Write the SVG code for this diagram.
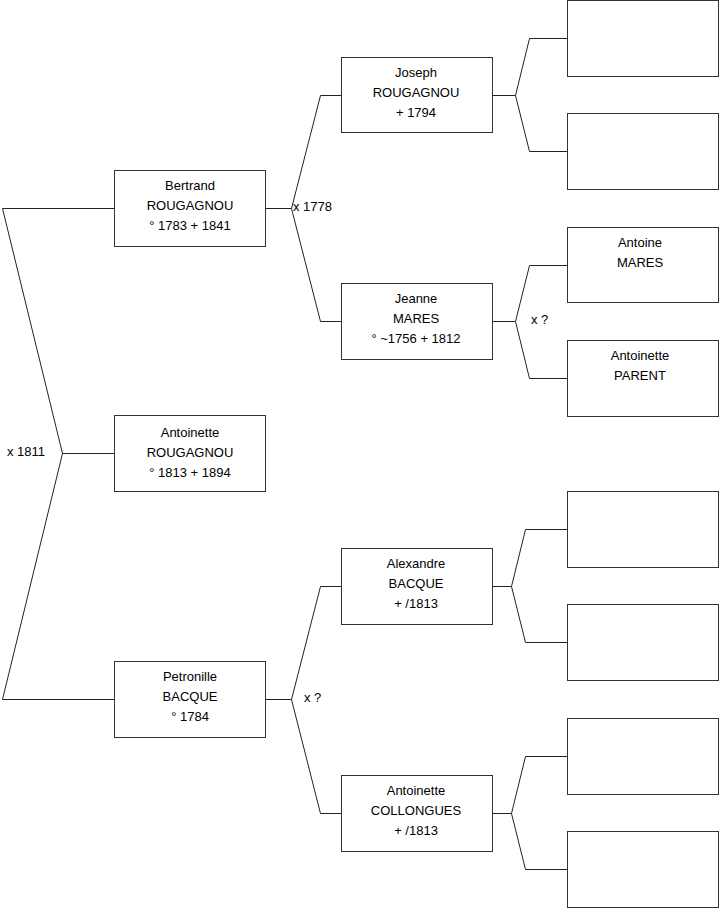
<svg xmlns="http://www.w3.org/2000/svg" width="719" height="908" viewBox="0 0 719 908">
<style>
.box{fill:#fff;stroke:#333;stroke-width:1}
.c{fill:none;stroke:#222;stroke-width:1}
text{font-family:"Liberation Sans",Arial,sans-serif;font-size:13px;fill:#000;dominant-baseline:middle}
.m{text-anchor:middle}
</style>
<rect width="719" height="908" fill="#fff"/>
<g id="connectors">
<path class="c" d="M114.5 453.5H62.5L2.5 208.5H114.5M62.5 453.5L2.5 699.5H114.5"/>
<path class="c" d="M265.5 208.5H291.5L320.5 95.5H341.5M291.5 208.5L320.5 321.5H341.5"/>
<path class="c" d="M265.5 699.5H291.5L320.5 586.5H341.5M291.5 699.5L320.5 813.5H341.5"/>
<path class="c" d="M492.5 95.5H515.5L529.5 38.5H567.5M515.5 95.5L529.5 151.5H567.5"/>
<path class="c" d="M492.5 321.5H515.5L529.5 265.5H567.5M515.5 321.5L529.5 378.5H567.5"/>
<path class="c" d="M492.5 586.5H511.5L525.5 529.5H567.5M511.5 586.5L525.5 642.5H567.5"/>
<path class="c" d="M492.5 813.5H511.5L525.5 756.5H567.5M511.5 813.5L525.5 869.5H567.5"/>
<text x="7" y="453">x 1811</text>
<text x="293" y="208">x 1778</text>
<text x="304" y="699">x ?</text>
<text x="531" y="321">x ?</text>
</g>
<g id="n-antoinette-rougagnou"><rect class="box" x="114.5" y="415.5" width="151" height="76"/><text class="m" x="190" y="434">Antoinette</text><text class="m" x="190" y="454">ROUGAGNOU</text><text class="m" x="190" y="474">° 1813 + 1894</text></g>
<g id="n-bertrand"><rect class="box" x="114.5" y="170.5" width="151" height="76"/><text class="m" x="190" y="187">Bertrand</text><text class="m" x="190" y="207">ROUGAGNOU</text><text class="m" x="190" y="227">° 1783 + 1841</text></g>
<g id="n-petronille"><rect class="box" x="114.5" y="661.5" width="151" height="76"/><text class="m" x="190" y="678">Petronille</text><text class="m" x="190" y="698">BACQUE</text><text class="m" x="190" y="718">° 1784</text></g>
<g id="n-joseph"><rect class="box" x="341.5" y="57.5" width="151" height="75"/><text class="m" x="416" y="74">Joseph</text><text class="m" x="416" y="94">ROUGAGNOU</text><text class="m" x="416" y="114">+ 1794</text></g>
<g id="n-jeanne"><rect class="box" x="341.5" y="283.5" width="151" height="76"/><text class="m" x="416" y="300">Jeanne</text><text class="m" x="416" y="320">MARES</text><text class="m" x="416" y="340">° ~1756 + 1812</text></g>
<g id="n-alexandre"><rect class="box" x="341.5" y="548.5" width="151" height="76"/><text class="m" x="416" y="565">Alexandre</text><text class="m" x="416" y="585">BACQUE</text><text class="m" x="416" y="605">+ /1813</text></g>
<g id="n-collongues"><rect class="box" x="341.5" y="775.5" width="151" height="76"/><text class="m" x="416" y="792">Antoinette</text><text class="m" x="416" y="812">COLLONGUES</text><text class="m" x="416" y="832">+ /1813</text></g>
<g id="n-g3-1"><rect class="box" x="567.5" y="0.5" width="151" height="76"/></g>
<g id="n-g3-2"><rect class="box" x="567.5" y="113.5" width="151" height="76"/></g>
<g id="n-antoine-mares"><rect class="box" x="567.5" y="227.5" width="151" height="75"/><text class="m" x="640" y="244">Antoine</text><text class="m" x="640" y="264">MARES</text></g>
<g id="n-antoinette-parent"><rect class="box" x="567.5" y="340.5" width="151" height="76"/><text class="m" x="640" y="357">Antoinette</text><text class="m" x="640" y="377">PARENT</text></g>
<g id="n-g3-5"><rect class="box" x="567.5" y="491.5" width="151" height="76"/></g>
<g id="n-g3-6"><rect class="box" x="567.5" y="604.5" width="151" height="76"/></g>
<g id="n-g3-7"><rect class="box" x="567.5" y="718.5" width="151" height="76"/></g>
<g id="n-g3-8"><rect class="box" x="567.5" y="831.5" width="151" height="76"/></g>
</svg>
